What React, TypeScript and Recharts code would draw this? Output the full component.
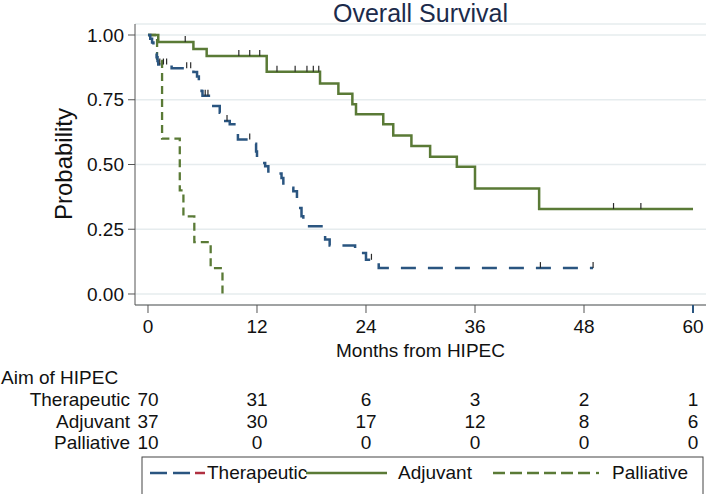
import { CartesianGrid, ComposedChart, Line, Scatter, XAxis, YAxis } from 'recharts'

// months from HIPEC / survival probability
const monthTicks = [0, 12, 24, 36, 48, 60]
const probTicks = [0, 0.25, 0.5, 0.75, 1]

const therapeuticTime = [0, 0.25, 0.45, 0.6, 0.75, 0.85, 0.95, 1.05, 1.13, 2.6, 5.0, 5.4, 5.6, 5.8, 5.9, 6.0, 7.0, 7.9, 8.3, 9.0, 9.8, 9.9, 11.8, 11.9, 12.0, 12.5, 12.9, 13.25, 14.7, 14.9, 15.8, 16.0, 16.4, 16.6, 16.9, 17.1, 19.1, 19.5, 20.0, 22.8, 24.0, 25.4, 49.0]
const therapeuticSurv = [1, 0.986, 0.971, 0.957, 0.943, 0.929, 0.914, 0.9, 0.886, 0.872, 0.857, 0.84, 0.822, 0.804, 0.784, 0.765, 0.726, 0.7, 0.668, 0.655, 0.623, 0.597, 0.58, 0.55, 0.519, 0.506, 0.493, 0.465, 0.448, 0.422, 0.41, 0.397, 0.358, 0.332, 0.3, 0.262, 0.235, 0.21, 0.187, 0.158, 0.132, 0.1, 0.1]
const therapeuticCensorTime = [1.3, 1.7, 2.05, 4.26, 4.7, 6.3, 6.6, 8.7, 11.2, 24.6, 43.2, 49.0]
const therapeuticCensorSurv = [0.886, 0.886, 0.886, 0.872, 0.872, 0.765, 0.765, 0.668, 0.597, 0.132, 0.1, 0.1]

const adjuvantTime = [0, 1.13, 5.0, 6.46, 13.07, 18.94, 20.96, 22.5, 22.9, 25.9, 27.0, 29.0, 31.06, 34.0, 36.0, 43.06, 60.0]
const adjuvantSurv = [1, 0.973, 0.946, 0.919, 0.858, 0.813, 0.773, 0.733, 0.694, 0.655, 0.612, 0.571, 0.53, 0.491, 0.407, 0.328, 0.328]
const adjuvantCensorTime = [4.1, 10.0, 11.2, 12.3, 14.2, 16.2, 17.5, 18.2, 18.8, 51.25, 54.26]
const adjuvantCensorSurv = [0.973, 0.919, 0.919, 0.919, 0.858, 0.858, 0.858, 0.858, 0.858, 0.328, 0.328]

const palliativeTime = [0, 1.0, 1.55, 3.5, 3.9, 5.1, 6.9, 8.2]
const palliativeSurv = [1, 0.9, 0.6, 0.4, 0.3, 0.2, 0.1, 0]

const groupNames = ['Therapeutic', 'Adjuvant', 'Palliative']
const atRiskTherapeutic = [70, 31, 6, 3, 2, 1]
const atRiskAdjuvant = [37, 30, 17, 12, 8, 6]
const atRiskPalliative = [10, 0, 0, 0, 0, 0]

const BLUE = '#2a5580'
const GREEN = '#5a7a36'
const FONT = '"Liberation Sans", Arial, Helvetica, sans-serif'

// plot box geometry (Stata pads the axes a little past 0 and 60)
const PLOT_LEFT = 135
const PLOT_WIDTH = 571
const X_MIN = -1.43
const X_MAX = 61.43
const xOf = (m: number) => PLOT_LEFT + ((m - X_MIN) / (X_MAX - X_MIN)) * PLOT_WIDTH

const toPoints = (t: number[], s: number[]) => t.map((v, i) => ({ t: v, s: s[i] }))

const therapeutic = toPoints(therapeuticTime, therapeuticSurv)
const adjuvant = toPoints(adjuvantTime, adjuvantSurv)
const palliative = toPoints(palliativeTime, palliativeSurv)
const therapeuticCensor = toPoints(therapeuticCensorTime, therapeuticCensorSurv)
const adjuvantCensor = toPoints(adjuvantCensorTime, adjuvantCensorSurv)

const CensorMark = (props: any) => (
  <line x1={props.cx} x2={props.cx} y1={props.cy} y2={props.cy - 6} stroke="#2b2b2b" strokeWidth={1.2} />
)

const MonthTick = ({ x, y, payload }: any) => (
  <g>
    {payload.value === 60 && (
      <line x1={x} x2={x} y1={y - 10} y2={y - 2} stroke={BLUE} strokeWidth={2} />
    )}
    <text x={x} y={y + 18} textAnchor="middle" fontSize={19} fill="#111" fontFamily={FONT}>
      {payload.value}
    </text>
  </g>
)

const atRiskRows = [atRiskTherapeutic, atRiskAdjuvant, atRiskPalliative]
const rowBaselines = [406, 428, 449]

export default function App() {
  return (
    <div style={{ position: 'absolute', left: 0, top: 0, width: 709, height: 494, background: '#fff', overflow: 'hidden', fontFamily: FONT }}>
      <ComposedChart width={709} height={494} margin={{ top: 24, right: 3, bottom: 129, left: 0 }}>
        <CartesianGrid vertical={false} stroke="#e6ecee" strokeWidth={1.5} />
        <XAxis
          type="number"
          dataKey="t"
          domain={[X_MIN, X_MAX]}
          ticks={monthTicks}
          allowDataOverflow
          height={60}
          tickSize={8}
          stroke="#555"
          tick={<MonthTick />}
        />
        <YAxis
          type="number"
          dataKey="s"
          domain={[-0.0425, 1.0425]}
          ticks={probTicks}
          allowDataOverflow
          width={135}
          tickSize={7}
          tickMargin={4}
          stroke="#555"
          tickFormatter={(v: number) => v.toFixed(2)}
          tick={{ fontSize: 19, fill: '#111', fontFamily: FONT }}
        />
        <Line data={palliative} dataKey="s" type="stepAfter" stroke={GREEN} strokeWidth={2.3} strokeDasharray="8 5" dot={false} activeDot={false} isAnimationActive={false} />
        <Line data={adjuvant} dataKey="s" type="stepAfter" stroke={GREEN} strokeWidth={2.5} dot={false} activeDot={false} isAnimationActive={false} />
        <Line data={therapeutic} dataKey="s" type="stepAfter" stroke={BLUE} strokeWidth={2.5} strokeDasharray="15 12" dot={false} activeDot={false} isAnimationActive={false} />
        <Scatter data={adjuvantCensor} dataKey="s" shape={CensorMark} isAnimationActive={false} />
        <Scatter data={therapeuticCensor} dataKey="s" shape={CensorMark} isAnimationActive={false} />
      </ComposedChart>

      <svg width={709} height={494} style={{ position: 'absolute', left: 0, top: 0, pointerEvents: 'none' }} fontFamily={FONT}>
        <text x={420.5} y={22} textAnchor="middle" fontSize={25} fill="#1c2b4b">Overall Survival</text>
        <text x={-164} y={72} transform="rotate(-90)" textAnchor="middle" fontSize={24} fill="#111">Probability</text>
        <text x={420.5} y={357} textAnchor="middle" fontSize={19} fill="#111">Months from HIPEC</text>

        <text x={1} y={384} fontSize={19} fill="#111">Aim of HIPEC</text>
        {groupNames.map((name, r) => (
          <g key={name}>
            <text x={130} y={rowBaselines[r]} textAnchor="end" fontSize={19} fill="#111">{name}</text>
            {atRiskRows[r].map((n, i) => (
              <text key={i} x={xOf(monthTicks[i])} y={rowBaselines[r]} textAnchor="middle" fontSize={19} fill="#111">{n}</text>
            ))}
          </g>
        ))}

        <rect x={142} y={457} width={561} height={60} fill="none" stroke="#444" strokeWidth={1} />
        <line x1={150} x2={191} y1={473} y2={473} stroke={BLUE} strokeWidth={2.5} strokeDasharray="17 6" />
        <line x1={195} x2={205} y1={473} y2={473} stroke="#b03040" strokeWidth={2.5} />
        <text x={207} y={479} fontSize={19} fill="#111">Therapeutic</text>
        <line x1={306} x2={387} y1={473} y2={473} stroke={GREEN} strokeWidth={2.5} />
        <text x={398} y={479} fontSize={19} fill="#111">Adjuvant</text>
        <line x1={493} x2={593} y1={473} y2={473} stroke={GREEN} strokeWidth={2.3} strokeDasharray="12 5" />
        <line x1={596} x2={599} y1={473} y2={473} stroke={GREEN} strokeWidth={2.3} />
        <text x={612} y={479} fontSize={19} fill="#111">Palliative</text>
      </svg>
    </div>
  )
}
